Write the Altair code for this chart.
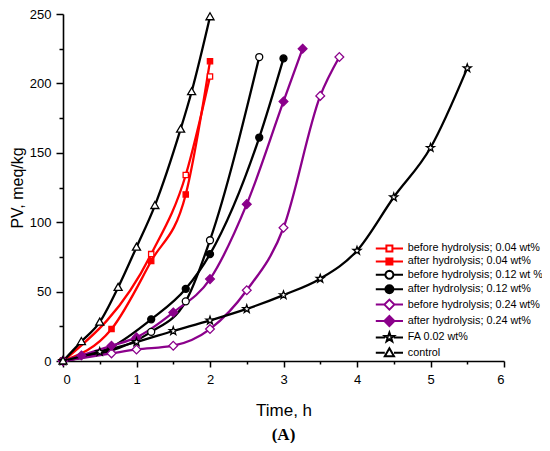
import math
import altair as alt
import pandas as pd

# series names in legend order
names = [
    'before hydrolysis; 0.04 wt%', 'after hydrolysis; 0.04 wt%',
    'before hydrolysis; 0.12 wt %', 'after hydrolysis; 0.12 wt%',
    'before hydrolysis; 0.24 wt%', 'after hydrolysis; 0.24 wt%',
    'FA 0.02 wt%', 'control'
]

# time (h) and PV (meq/kg)
b004_x = [0, 1.2, 1.67, 2.0]
b004_y = [0, 77, 134, 205]
a004_x = [0, 0.66, 1.2, 1.67, 2.0]
a004_y = [0, 23, 72, 120, 216]
b012_x = [0, 1.2, 1.67, 2.0, 2.67]
b012_y = [0, 21, 43, 87, 219]
a012_x = [0, 0.66, 1.2, 1.67, 2.0, 2.67, 3.0]
a012_y = [0, 10, 30, 52, 77, 161, 218]
b024_x = [0, 0.66, 1.0, 1.5, 2.0, 2.5, 3.0, 3.5, 3.76]
b024_y = [0, 5.5, 8.3, 11, 23, 51, 96, 191, 219]
a024_x = [0, 0.25, 0.66, 1.0, 1.5, 2.0, 2.5, 3.0, 3.26]
a024_y = [0, 4, 11, 17, 35, 59, 113, 187, 225]
fa_x = [0, 0.5, 1.0, 1.5, 2.0, 2.5, 3.0, 3.5, 4.0, 4.5, 5.0, 5.5]
fa_y = [0, 6.6, 13.7, 21.6, 29.2, 37.5, 47.5, 59.3, 79.5, 118, 153.6, 211]
ctrl_x = [0, 0.25, 0.5, 0.75, 1.0, 1.25, 1.6, 1.75, 2.0]
ctrl_y = [0, 14, 28, 53, 82, 112, 167, 194, 248]

xs = [b004_x, a004_x, b012_x, a012_x, b024_x, a024_x, fa_x, ctrl_x]
ys = [b004_y, a004_y, b012_y, a012_y, b024_y, a024_y, fa_y, ctrl_y]

rows = []
for name, sx, sy in zip(names, xs, ys):
    for x, y in zip(sx, sy):
        rows.append({'series': name, 'x': x, 'y': y})
df = pd.DataFrame(rows)

RED = '#ff0000'
BLK = '#000000'
PUR = '#8b008b'
line_colors = [RED, RED, BLK, BLK, PUR, PUR, BLK, BLK]
fill_colors = ['white', RED, 'white', BLK, 'white', PUR, 'white', 'white']

# marker outlines (unit box)
SQ = 'M-0.75,-0.75H0.75V0.75H-0.75Z'
CI = 'M' + 'L'.join('%.3f,%.3f' % (math.cos(a * math.pi / 8), math.sin(a * math.pi / 8))
                    for a in range(16)) + 'Z'
DI = 'M0,-1.25L1.25,0L0,1.25L-1.25,0Z'
ST = ('M0,-1.2L0.282,-0.388L1.141,-0.371L0.456,0.148L0.705,0.971L0,0.48'
      'L-0.705,0.971L-0.456,0.148L-1.141,-0.371L-0.282,-0.388Z')
TR = 'M0,-1.15L1.15,0.85H-1.15Z'
markers = [SQ, SQ, 'circle', 'circle', DI, DI, ST, TR]
legend_shapes = [SQ, SQ, CI, CI, DI, DI, ST, TR]
gaps = [0.75, 0.75, 1.0, 1.0, 1.25, 1.25, 1.1, 1.15]
legend_markers = [m + 'M-3.4,0H-%s' % g + 'M%s,0H3.4' % g for m, g in zip(legend_shapes, gaps)]

x_ticks = [i * 0.5 for i in range(13)]
y_ticks = [i * 25 for i in range(11)]

x_enc = alt.X('x:Q', scale=alt.Scale(domain=[0, 6], nice=False),
              axis=alt.Axis(title='Time, h', values=x_ticks,
                            labelExpr="datum.value % 1 === 0 ? format(datum.value, 'd') : ''",
                            tickSize={'condition': {'test': 'datum.value % 1 === 0', 'value': 6}, 'value': 3},
                            labelPadding=6, titlePadding=16))
y_enc = alt.Y('y:Q', scale=alt.Scale(domain=[0, 250], nice=False),
              axis=alt.Axis(title='PV, meq/kg', values=y_ticks,
                            labelExpr="datum.value % 50 === 0 ? format(datum.value, 'd') : ''",
                            tickSize={'condition': {'test': 'datum.value % 50 === 0', 'value': 7}, 'value': 4},
                            labelPadding=5, titlePadding=4, titleFontSize=16))

base = alt.Chart(df)

lines = base.mark_line(strokeWidth=2.3, interpolate='monotone').encode(
    x=x_enc, y=y_enc,
    color=alt.Color('series:N', scale=alt.Scale(domain=names, range=line_colors), legend=None),
    detail='series:N'
)

points = base.mark_point(size=49, opacity=1, strokeWidth=1.3).encode(
    x=x_enc, y=y_enc,
    shape=alt.Shape('series:N', scale=alt.Scale(domain=names, range=markers), legend=None),
    fill=alt.Fill('series:N', scale=alt.Scale(domain=names, range=fill_colors), legend=None),
    stroke=alt.Stroke('series:N', scale=alt.Scale(domain=names, range=line_colors), legend=None)
)

leg = alt.Legend(title=None, orient='none', legendX=321, legendY=229, padding=0,
                 symbolSize=64, symbolStrokeWidth=2, symbolOpacity=1,
                 labelFont='Liberation Sans', labelFontSize=10.8, labelColor='black',
                 labelOffset=13, rowPadding=-2.6)

legend_layer = base.mark_point(size=64, opacity=1).encode(
    x=x_enc, y=y_enc,
    shape=alt.Shape('series:N', scale=alt.Scale(domain=names, range=legend_markers), legend=leg),
    fill=alt.Fill('series:N', scale=alt.Scale(domain=names, range=fill_colors), legend=leg),
    stroke=alt.Stroke('series:N', scale=alt.Scale(domain=names, range=line_colors), legend=leg)
).transform_filter('datum.x < -100')

chart = alt.layer(lines, points, legend_layer).resolve_scale(
    shape='independent', fill='independent', stroke='independent'
).properties(
    width=441, height=347,
    autosize=alt.AutoSizeParams(type='none'),
    padding={'left': 55, 'top': 6, 'right': 38, 'bottom': 82},
    title=alt.TitleParams('(A)', orient='bottom', font='Liberation Serif', fontSize=17,
                          fontWeight='bold', color='black', offset=9)
).configure_view(
    stroke=None
).configure_axis(
    grid=False, domainColor='black', domainWidth=1.6, tickColor='black', tickWidth=1.5,
    labelFont='Liberation Sans', labelFontSize=13, labelColor='black',
    titleFont='Liberation Sans', titleFontSize=17, titleFontWeight='normal', titleColor='black'
)

chart.save('out.html', embed_options={'renderer': 'svg', 'actions': False})
